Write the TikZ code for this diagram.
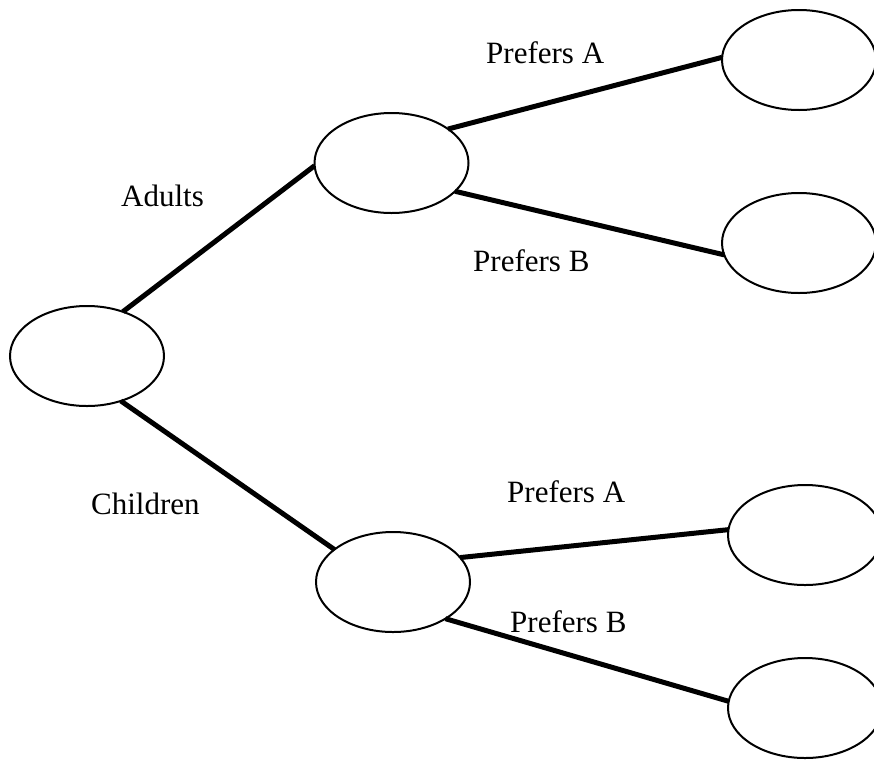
\documentclass[tikz,border=0pt]{standalone}
\usepackage{fontspec}
\setmainfont{Liberation Serif}
\usetikzlibrary{shapes.geometric}
\begin{document}
\begin{tikzpicture}[x=1pt,y=-1pt,
  oval/.style={draw=black, ellipse, line width=2pt, minimum width=154pt, minimum height=100pt, inner sep=0pt, outer sep=0pt},
  edge/.style={draw=black, line width=5pt},
  lbl/.style={anchor=base west, inner sep=0pt, font=\fontsize{31}{36}\selectfont}]
\useasboundingbox (0,0) rectangle (874,766);
\node[oval] (root) at (87,356) {};
\node[oval] (adults) at (391.5,163) {};
\node[oval] (children) at (393,582) {};
\node[oval] (a1) at (799,60) {};
\node[oval] (a2) at (799,243) {};
\node[oval] (c1) at (805,535) {};
\node[oval] (c2) at (805,708) {};
\draw[edge] (root.51) -- (adults.182);
\draw[edge] (root.-53) -- (children.151);
\draw[edge] (adults.31) -- (a1.178);
\draw[edge] (adults.-24) -- (a2.189);
\draw[edge] (children.20.5) -- (c1.176);
\draw[edge] (children.-35) -- (c2.175);
\node[lbl] (lpa1) at (486,63) {Prefers A};
\node[lbl] (lpb1) at (473,271) {Prefers B};
\node[lbl] (ladults) at (121,206) {Adults};
\node[lbl] (lchildren) at (91,514) {Children};
\node[lbl] (lpa2) at (507,502) {Prefers A};
\node[lbl] (lpb2) at (510,632) {Prefers B};
\end{tikzpicture}
\end{document}
